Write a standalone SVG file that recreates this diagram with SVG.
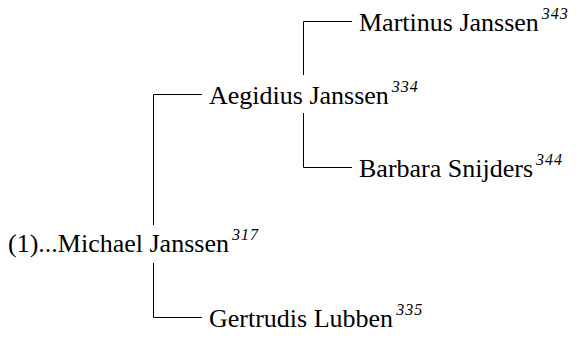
<svg xmlns="http://www.w3.org/2000/svg" width="580" height="338" viewBox="0 0 580 338">
<style>
.n{font-family:"Liberation Serif","Times New Roman",serif;font-size:26px;fill:#000}
.s{font-size:16px;font-style:italic;letter-spacing:1px}
.c{stroke:#000;stroke-width:1;fill:none}
</style>
<rect width="580" height="338" fill="#fff"/>
<g id="connectors">
<path class="c" d="M153.5,225 V94.5 H202"/>
<path class="c" d="M153.5,263 V317.5 H202"/>
<path class="c" d="M303.5,75 V21.5 H352"/>
<path class="c" d="M303.5,113 V167.5 H352"/>
</g>
<g id="michael"><text class="n" x="8" y="251.5" font-size="26.5">(1)...Michael Janssen<tspan class="s" dx="3" dy="-12">317</tspan></text></g>
<g id="aegidius"><text class="n" x="209" y="103.5" font-size="26.5">Aegidius Janssen<tspan class="s" dx="3" dy="-12">334</tspan></text></g>
<g id="martinus"><text class="n" x="359" y="30.5">Martinus Janssen<tspan class="s" dx="3" dy="-12">343</tspan></text></g>
<g id="barbara"><text class="n" x="359" y="176.5">Barbara Snijders<tspan class="s" dx="3" dy="-12">344</tspan></text></g>
<g id="gertrudis"><text class="n" x="209" y="326.5">Gertrudis Lubben<tspan class="s" dx="3" dy="-12">335</tspan></text></g>
</svg>
